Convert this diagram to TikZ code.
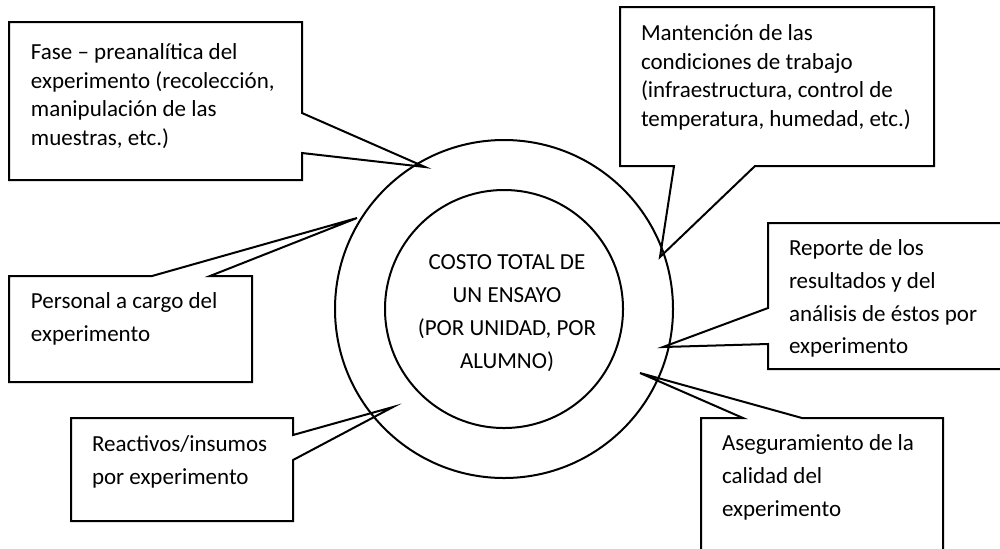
\documentclass[tikz,border=0pt]{standalone}
\usepackage{fontspec}
\setmainfont{Carlito}
\usepackage{tikz}

\begin{document}
\begin{tikzpicture}[x=0.5pt,y=-0.5pt,line width=1pt,line join=miter]
				\tikzstyle{callout}=[draw=black]
				\tikzstyle{ring}=[circle,draw=black,inner sep=0pt]
				\tikzstyle{txt}=[anchor=north west,inner sep=0pt,align=left,
					font=\fontsize{11.5pt}{16.3pt}\selectfont]
				\tikzstyle{tight}=[font=\fontsize{11.5pt}{14.2pt}\selectfont]

				\useasboundingbox (0,0) rectangle (1000,548);
				\clip (0,0) rectangle (1000,548);

				% the two rings and the total cost
				\node[ring,minimum size=169pt]	(outer)	at (504,309)	{};
				\node[ring,minimum size=119pt]	(inner)	at (504,309)	{};
				\node[txt,anchor=center,align=center,
					font=\fontsize{11.5pt}{16.5pt}\selectfont]	(costo)	at (507,313)
					{COSTO TOTAL DE\\UN ENSAYO\\(POR UNIDAD, POR\\ALUMNO)};

				% pointer tips on the ring
				\coordinate	(tfase)		at (425,167);
				\coordinate	(tmant)		at (660,257);
				\coordinate	(tpersonal)	at (357,218);
				\coordinate	(treactivos)	at (393,407);
				\coordinate	(treporte)	at (663,347);
				\coordinate	(tcalidad)	at (640,373);

				% callout outlines
				\draw[callout] (9,22) -- (302,22) -- (302,113) -- (tfase) -- (302,153) -- (302,180) -- (9,180) -- cycle;
				\draw[callout] (620,7) -- (934,7) -- (934,166) -- (755,166) -- (tmant) -- (674,166) -- (620,166) -- cycle;
				\draw[callout] (9,276) -- (152,276) -- (tpersonal) -- (210,276) -- (252,276) -- (252,382) -- (9,382) -- cycle;
				\draw[callout] (71,418) -- (293,418) -- (293,435) -- (treactivos) -- (293,460) -- (293,521) -- (71,521) -- cycle;
				\draw[callout] (768,223) -- (1010,223) -- (1010,369) -- (768,369) -- (768,344) -- (treporte) -- (768,308) -- cycle;
				\draw[callout] (701,418) -- (743,418) -- (tcalidad) -- (802,418) -- (943,418) -- (943,560) -- (701,560) -- cycle;

				% callout texts
				\node[txt,tight]	(fase)		at (30,43)
					{Fase -- preanalítica del\\experimento (recolección,\\manipulación de las\\muestras, etc.)};
				\node[txt,tight]	(mant)		at (640,24)
					{Mantención de las\\condiciones de trabajo\\(infraestructura, control de\\temperatura, humedad, etc.)};
				\node[txt]	(personal)	at (30,292)	{Personal a cargo del\\experimento};
				\node[txt]	(reactivos)	at (91,435)	{Reactivos/insumos\\por experimento};
				\node[txt]	(reporte)	at (788,239)
					{Reporte de los\\resultados y del\\análisis de éstos por\\experimento};
				\node[txt]	(calidad)	at (721,434)
					{Aseguramiento de la\\calidad del\\experimento};
\end{tikzpicture}
\end{document}
